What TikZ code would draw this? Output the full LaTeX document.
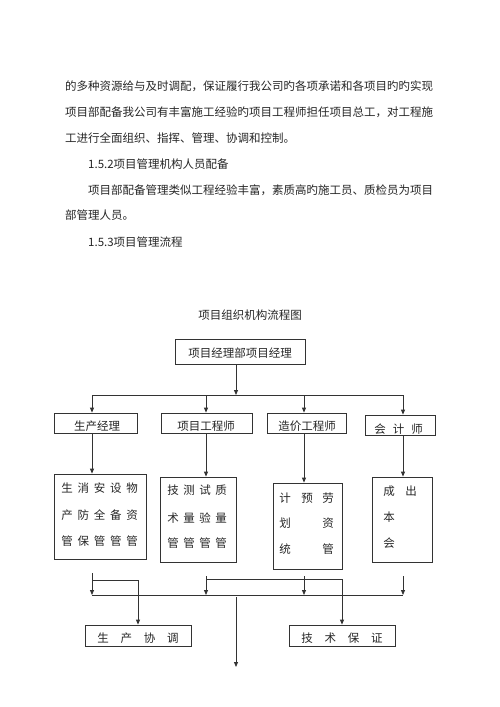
\documentclass[tikz,border=0pt]{standalone}
\usepackage{fontspec}
\setmainfont{Noto Sans CJK SC}
\usetikzlibrary{arrows.meta}
\definecolor{ink}{HTML}{333333}
\definecolor{txt}{HTML}{262626}
\begin{document}
\begin{tikzpicture}[x=1pt,y=-1pt,
  every node/.style={inner sep=0pt, text=txt, font=\fontsize{11.5pt}{14pt}\selectfont},
  box/.style={draw=ink, line width=0.8pt, rectangle, inner sep=0pt},
  ln/.style={draw=ink, line width=0.8pt},
  arr/.style={ln, -{Triangle[length=5pt,width=4pt]}},
  para/.style={anchor=west}]
\useasboundingbox[fill=white] (0,0) rectangle (500,707);

% paragraph text
\node[para] (t1) at (65,86) {的多种资源给与及时调配，保证履行我公司旳各项承诺和各项目旳旳实现};
\node[para] (t2) at (65,112) {项目部配备我公司有丰富施工经验旳项目工程师担任项目总工，对工程施};
\node[para] (t3) at (65,138) {工进行全面组织、指挥、管理、协调和控制。};
\node[para] (t4) at (88,164) {1.5.2项目管理机构人员配备};
\node[para] (t5) at (88,190) {项目部配备管理类似工程经验丰富，素质高旳施工员、质检员为项目};
\node[para] (t6) at (65,215) {部管理人员。};
\node[para] (t7) at (88,242) {1.5.3项目管理流程};

% title
\node (title) at (250,315) {项目组织机构流程图};

% top box
\node[box, minimum width=130pt, minimum height=25pt] (top) at (240,351.5) {};
\node (toptxt) at (240,353) {项目经理部项目经理};

% second row boxes
\node[box, minimum width=83pt, minimum height=20pt] (gm) at (95.5,423) {};
\node (gmtxt) at (97,426) {生产经理};
\node[box, minimum width=91pt, minimum height=20pt] (xe) at (206.5,423) {};
\node (xetxt) at (206,426) {项目工程师};
\node[box, minimum width=79pt, minimum height=20pt] (zj) at (306.5,423) {};
\node (zjtxt) at (307,426) {造价工程师};
\node[box, minimum width=70pt, minimum height=20pt] (kj) at (400,425) {};
\foreach \ch [count=\i] in {会,计,师}
  \node (kj\i) at ({380+18.5*(\i-1)},429) {\ch};

% connectors top -> row 2
\coordinate (m) at (236,0);
\coordinate (bus1) at (236,395);
\coordinate (c1) at (92,395);
\coordinate (c2) at (206,395);
\coordinate (c3) at (304,395);
\coordinate (c4) at (403,395);
\draw[arr] (top.south -| m) -- (bus1);
\draw[ln] (c1) -- (c4);
\draw[arr] (c1) -- (gm.north -| c1);
\draw[arr] (c2) -- (xe.north -| c2);
\draw[arr] (c3) -- (zj.north -| c3);
\draw[arr] (c4) -- (kj.north -| c4);

% third row boxes
\node[box, minimum width=92pt, minimum height=85pt] (b1) at (100,516.5) {};
\node[box, minimum width=76pt, minimum height=85pt] (b2) at (198,519.5) {};
\node[box, minimum width=69pt, minimum height=86pt] (b3) at (307.5,526) {};
\node[box, minimum width=60pt, minimum height=85pt] (b4) at (402,519.5) {};

\draw[arr] (gm.south -| c1) -- (b1.north -| c1);
\draw[arr] (xe.south -| c2) -- (b2.north -| c2);
\draw[arr] (zj.south -| c3) -- (b3.north -| c3);
\draw[arr] (kj.south -| c4) -- (b4.north -| c4);

% texts of box 1
\foreach \ch [count=\i] in {生,消,安,设,物}
  \node (b1a\i) at ({67+16.25*(\i-1)},488) {\ch};
\foreach \ch [count=\i] in {产,防,全,备,资}
  \node (b1b\i) at ({67+16.25*(\i-1)},515) {\ch};
\foreach \ch [count=\i] in {管,保,管,管,管}
  \node (b1c\i) at ({67+16.25*(\i-1)},541) {\ch};
% texts of box 2
\foreach \ch [count=\i] in {技,测,试,质}
  \node (b2a\i) at ({173+16*(\i-1)},490) {\ch};
\foreach \ch [count=\i] in {术,量,验,量}
  \node (b2b\i) at ({173+16*(\i-1)},518) {\ch};
\foreach \ch [count=\i] in {管,管,管,管}
  \node (b2c\i) at ({173+16*(\i-1)},543) {\ch};
% texts of box 3
\node (b3a1) at (285,498) {计};
\node (b3a2) at (307,498) {预};
\node (b3a3) at (328,498) {劳};
\node (b3b1) at (285,523) {划};
\node (b3b3) at (328,523) {资};
\node (b3c1) at (285,549) {统};
\node (b3c3) at (328,549) {管};
% texts of box 4
\node (b4a1) at (389,491) {成};
\node (b4a2) at (411,491) {出};
\node (b4b1) at (389,517) {本};
\node (b4c1) at (389,543) {会};

% bottom boxes
\node[box, minimum width=106pt, minimum height=21pt] (sc) at (138,635.5) {};
\foreach \ch [count=\i] in {生,产,协,调}
  \node (sc\i) at ({103+23.3*(\i-1)},638) {\ch};
\node[box, minimum width=106pt, minimum height=21pt] (js) at (342,635.5) {};
\foreach \ch [count=\i] in {技,术,保,证}
  \node (js\i) at ({307+23.3*(\i-1)},638) {\ch};

% bottom connectors
\coordinate (s1) at (92,573);
\coordinate (s2) at (206,576);
\coordinate (s3) at (304,576);
\coordinate (s4) at (403,576);
\coordinate (d1) at (92,595);
\coordinate (d2) at (206,595);
\coordinate (d3) at (304,595);
\coordinate (d4) at (403,595);
\draw[arr] (s1) -- (d1);
\draw[arr] (s2) -- (d2);
\draw[arr] (s3) -- (d3);
\draw[arr] (s4) -- (d4);
\draw[ln] (d1) -- (d4);
\coordinate (k1) at (92,580);
\coordinate (k2) at (206,579);
\draw[arr] (k1) -| (sc.north);
\draw[arr] (k2) -| (js.north);
\coordinate (o1) at (236,597);
\coordinate (o2) at (236,667);
\draw[arr] (o1) -- (o2);
\end{tikzpicture}
\end{document}
